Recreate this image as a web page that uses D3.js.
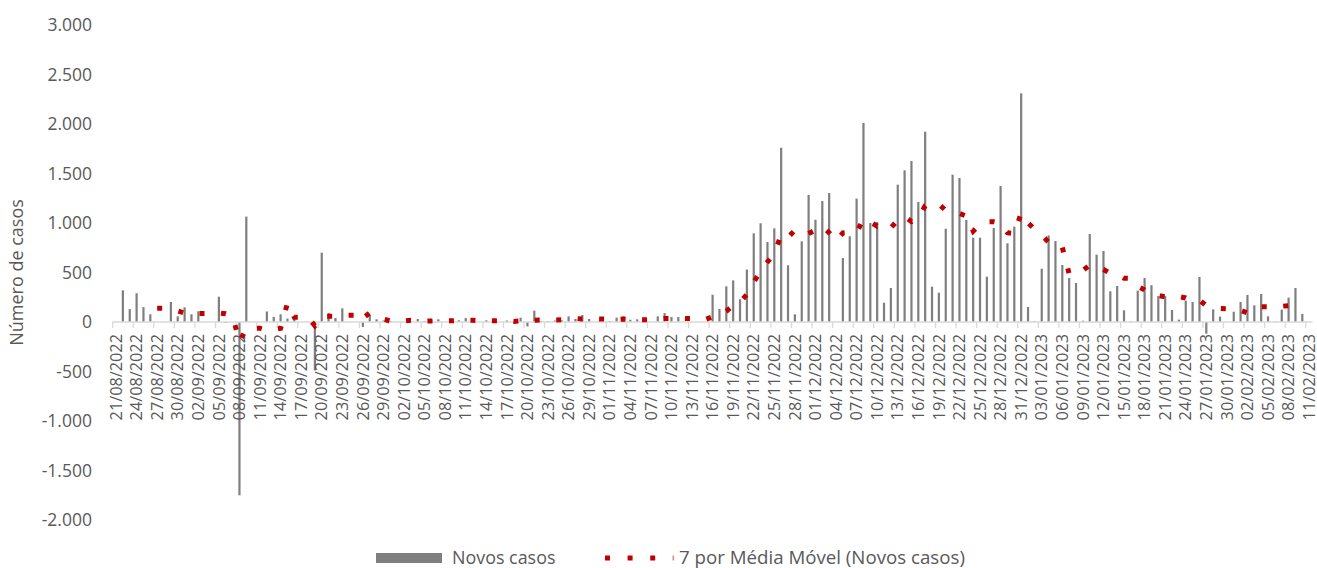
<!DOCTYPE html>
<html><head><meta charset="utf-8">
<script src="https://cdn.jsdelivr.net/npm/d3@7"></script>
<style>
html,body{margin:0;padding:0;background:#fff;}
svg{display:block;font-family:"Open Sans",sans-serif;}
</style></head>
<body>
<svg id="chart" width="1317" height="568"></svg>
<script>
// ---- data ----
const startDate = new Date(2022, 7, 21);
const endDate = new Date(2023, 1, 12);
const categories = d3.timeDay.range(startDate, endDate); // 21/08/2022 .. 11/02/2023 (175 days)

const novosCasos = [
  0, 320, 130, 290, 150, 78, 0, 0, 202, 57,
  148, 78, 108, 0, 0, 255, -10, 0, -1750, 1065,
  0, 0, 106, 51, 78, 34, 65, 0, 0, -490,
  700, 91, 40, 138, 0, 0, -50, 71, 27, 15,
  10, 0, 0, 0, 30, 10, 23, 27, 0, 0,
  17, 40, 10, 0, 17, 0, 0, 15, 0, 43,
  -45, 115, 10, 8, 15, 17, 57, 30, 71, 30,
  0, 0, 10, 44, 57, 23, 27, 0, 0, 57,
  90, 50, 50, 0, 0, 0, 0, 275, 131, 360,
  420, 230, 530, 896, 997, 808, 946, 1760, 573, 78,
  815, 1283, 1033, 1222, 1303, 0, 646, 866, 1246, 2010,
  1000, 1010, 195, 343, 1387, 1532, 1626, 1212, 1922, 357,
  296, 942, 1488, 1455, 1030, 852, 852, 458, 950, 1374,
  795, 963, 2310, 152, 7, 538, 875, 818, 576, 444,
  394, 13, 889, 680, 717, 310, 364, 118, 5, 316,
  444, 372, 262, 262, 121, 24, 215, 202, 455, -118,
  128, 54, 0, 104, 202, 273, 168, 283, 57, 5,
  125, 246, 343, 81, null
];

const xTickLabels = [
  "21/08/2022","24/08/2022","27/08/2022","30/08/2022","02/09/2022","05/09/2022","08/09/2022",
  "11/09/2022","14/09/2022","17/09/2022","20/09/2022","23/09/2022","26/09/2022","29/09/2022",
  "02/10/2022","05/10/2022","08/10/2022","11/10/2022","14/10/2022","17/10/2022","20/10/2022",
  "23/10/2022","26/10/2022","29/10/2022","01/11/2022","04/11/2022","07/11/2022","10/11/2022",
  "13/11/2022","16/11/2022","19/11/2022","22/11/2022","25/11/2022","28/11/2022","01/12/2022",
  "04/12/2022","07/12/2022","10/12/2022","13/12/2022","16/12/2022","19/12/2022","22/12/2022",
  "25/12/2022","28/12/2022","31/12/2022","03/01/2023","06/01/2023","09/01/2023","12/01/2023",
  "15/01/2023","18/01/2023","21/01/2023","24/01/2023","27/01/2023","30/01/2023","02/02/2023",
  "05/02/2023","08/02/2023","11/02/2023"
];
const yTickValues = [-2000, -1500, -1000, -500, 0, 500, 1000, 1500, 2000, 2500, 3000];
const yTitle = "Número de casos";
const legendLabels = ["Novos casos", "7 por Média Móvel (Novos casos)"];
const maPeriod = 7;

// ---- chart ----
const svg = d3.select("#chart");
const plotLeft = 112.6, plotRight = 1312.6, plotTop = 25, plotBottom = 520;
const idx = d3.range(categories.length);
const x = d3.scaleBand().domain(idx).range([plotLeft, plotRight]).paddingInner(0).paddingOuter(0);
const y = d3.scaleLinear().domain([-2000, 3000]).range([plotBottom, plotTop]);
const loc = d3.formatLocale({decimal: ",", thousands: ".", grouping: [3], currency: ["", ""], minus: "-"});
const fmt = loc.format(",d");
const textColor = "#595959";

// y tick labels
svg.append("g").selectAll("text").data(yTickValues).join("text")
  .attr("x", 92).attr("y", d => y(d)).attr("dy", "0.35em")
  .attr("text-anchor", "end").attr("fill", textColor)
  .style("font-size", "17.5px").text(d => fmt(d));

// y title
svg.append("text")
  .attr("transform", `translate(17,${(plotTop + plotBottom) / 2}) rotate(-90)`)
  .attr("dy", "0.35em").attr("text-anchor", "middle").attr("fill", textColor)
  .style("font-size", "18px").text(yTitle);

// bars
const barW = 2.2;
svg.append("g").selectAll("rect")
  .data(idx.filter(i => novosCasos[i] !== null && novosCasos[i] !== 0))
  .join("rect")
  .attr("x", i => x(i) + x.bandwidth() / 2 - barW / 2)
  .attr("width", barW)
  .attr("y", i => Math.min(y(novosCasos[i]), y(0)))
  .attr("height", i => Math.abs(y(novosCasos[i]) - y(0)))
  .attr("fill", "#7f7f7f");

// x axis line + ticks
const axisG = svg.append("g");
axisG.append("line").attr("x1", plotLeft).attr("x2", plotRight).attr("y1", y(0)).attr("y2", y(0))
  .attr("stroke", "#d9d9d9").attr("stroke-width", 1.3);
const tickIdx = idx.filter(i => i % 3 === 0);
axisG.selectAll("line.tick").data(tickIdx).join("line").attr("class", "tick")
  .attr("x1", i => x(i)).attr("x2", i => x(i))
  .attr("y1", y(0)).attr("y2", y(0) + 6)
  .attr("stroke", "#d9d9d9").attr("stroke-width", 1.3);

// x labels
axisG.selectAll("text").data(tickIdx).join("text")
  .attr("transform", i => `translate(${x(i) + x.bandwidth() / 2},334) rotate(-90)`)
  .attr("dy", "0.35em").attr("text-anchor", "end").attr("fill", textColor)
  .style("font-size", "16.3px")
  .text((i, k) => xTickLabels[k]);

// moving average (Excel trendline: 7-period mean)
const maData = idx.filter(i => i >= maPeriod - 1 && novosCasos[i] !== null)
  .map(i => ({i, v: d3.mean(novosCasos.slice(i - maPeriod + 1, i + 1))}));
const line = d3.line().x(d => x(d.i) + x.bandwidth() / 2).y(d => y(d.v));
svg.append("path").datum(maData).attr("d", line)
  .attr("fill", "none").attr("stroke", "#c00000").attr("stroke-width", 5)
  .attr("stroke-dasharray", "5,16.5").attr("stroke-linejoin", "miter");

// legend
const lg = svg.append("g");
lg.append("rect").attr("x", 376).attr("y", 553).attr("width", 66).attr("height", 10).attr("fill", "#7f7f7f");
lg.append("text").attr("x", 452).attr("y", 564).attr("fill", textColor)
  .style("font-size", "17.9px").text(legendLabels[0]);
lg.append("line").attr("x1", 605).attr("x2", 673.5).attr("y1", 558).attr("y2", 558)
  .attr("stroke", "#c00000").attr("stroke-width", 5).attr("stroke-dasharray", "5,17.6");
lg.append("text").attr("x", 679).attr("y", 564).attr("fill", textColor)
  .style("font-size", "18.7px").text(legendLabels[1]);
</script>
</body></html>
